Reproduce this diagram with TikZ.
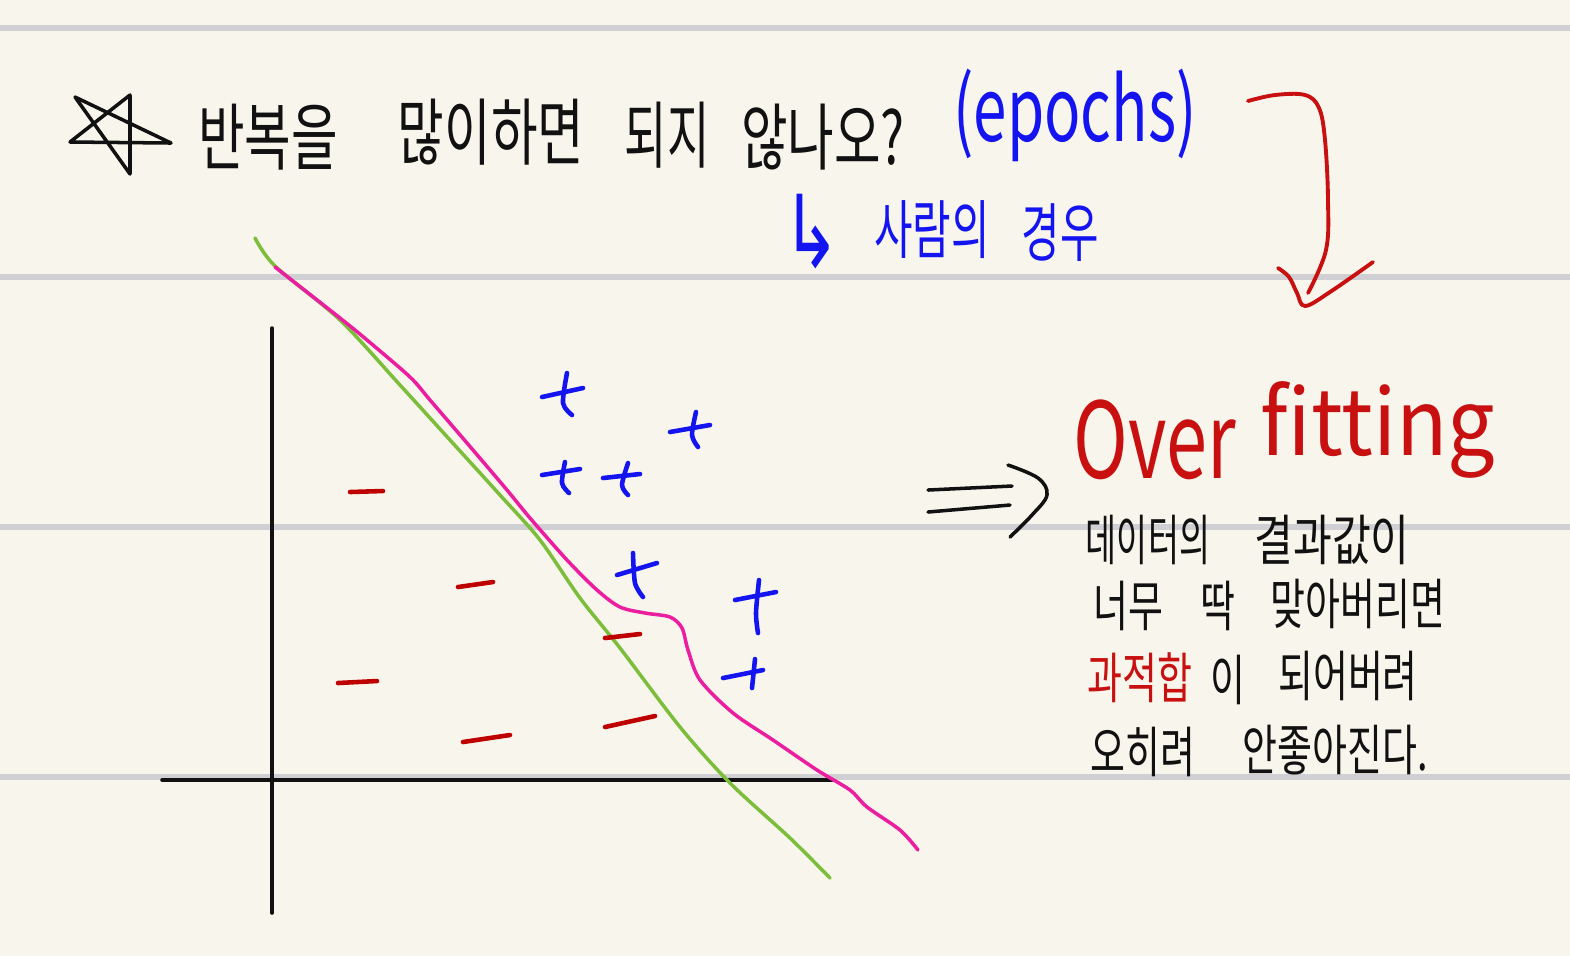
\documentclass[tikz,border=0pt]{standalone}
\usepackage{fontspec}
\usepackage{graphicx}
\newfontfamily\krfont{Noto Sans CJK KR}
\newfontfamily\djfont{DejaVu Sans}
\definecolor{paper}{RGB}{248,246,236}
\definecolor{rulec}{RGB}{208,208,212}
\definecolor{inkc}{RGB}{17,17,17}
\definecolor{bluec}{RGB}{20,20,240}
\definecolor{redc}{RGB}{200,16,16}
\definecolor{minusc}{RGB}{190,0,0}
\definecolor{greenc}{RGB}{124,190,60}
\definecolor{pinkc}{RGB}{236,30,160}
\newcommand\stretchtxt[3]{\scalebox{#1}[#2]{#3}}
\begin{document}
\begin{tikzpicture}[x=0.01cm,y=-0.01cm,
  rulestyle/.style={rulec,line width=1.5pt},
  txt/.style={inner sep=0pt,font=\krfont},
  titletxt/.style={txt,inkc,font=\krfont\fontsize{16}{18}\selectfont},
  bluetxt/.style={txt,bluec,font=\krfont\fontsize{14}{16}\selectfont},
  bodytxt/.style={txt,inkc,font=\krfont\fontsize{12}{14}\selectfont},
  overtxt/.style={txt,redc,font=\krfont\fontsize{20}{22}\selectfont},
  inkline/.style={inkc,line width=1pt,line cap=round,line join=round},
  plusstroke/.style={bluec,line width=1.3pt,line cap=round,line join=round},
  minusstroke/.style={minusc,line width=1.3pt,line cap=round},
  greencurve/.style={greenc,line width=1pt,line cap=round},
  pinkcurve/.style={pinkc,line width=1pt,line cap=round},
  redarrow/.style={redc,line width=1.1pt,line cap=round,line join=round}]
\fill[paper] (0,0) rectangle (1570,956);
\useasboundingbox (0,0) rectangle (1570,956);
\foreach \yy in {28,277,527,777} \draw[rulestyle] (0,\yy) -- (1570,\yy);

% star
\coordinate (sTL) at (75,97);
\coordinate (sT) at (130,95);
\coordinate (sR) at (171,143);
\coordinate (sL) at (70,142);
\coordinate (sB) at (130,174);
\draw[inkline] (sTL) -- (sR) -- (sL) -- (sT) -- (sB) -- cycle;

% title
\node[titletxt] (w1) at (268,137) {\stretchtxt{0.9}{1.3}{반복을}};
\node[titletxt] (w2) at (491,132) {\stretchtxt{0.9}{1.3}{많이하면}};
\node[titletxt] (w3) at (667,135) {\stretchtxt{0.82}{1.3}{되지}};
\node[titletxt] (w4) at (823,137) {\stretchtxt{0.9}{1.3}{않나오?}};
\node[txt,bluec,font=\krfont\fontsize{18}{20}\selectfont] (ep) at (1075,115) {\stretchtxt{0.95}{1.4}{(epochs)}};

% subtitle
\node[txt,bluec,font=\djfont\fontsize{22}{24}\selectfont] (ar) at (812,232) {\stretchtxt{0.9}{1.3}{↳}};
\node[bluetxt] (s1) at (932,230) {\stretchtxt{0.85}{1.3}{사람의}};
\node[bluetxt] (s2) at (1060,233) {\stretchtxt{0.85}{1.3}{경우}};

% red curved arrow
\draw[redarrow] plot[smooth,tension=0.6] coordinates {(1248,101) (1275,95) (1305,95) (1319,108) (1325,140) (1328,200) (1326,250) (1308,293)};
\draw[redarrow] plot[smooth,tension=0.6] coordinates {(1278,268) (1289,277) (1297,293) (1305,306) (1330,292) (1373,262)};

% axes
\coordinate (ytop) at (272,328);
\coordinate (ybot) at (272,913);
\coordinate (xl) at (162,780);
\coordinate (xr) at (832,780);
\draw[inkline] (ytop) -- (ybot);
\draw[inkline] (xl) -- (xr);

% curves
\draw[greencurve] plot[smooth,tension=0.5] coordinates {(255,238) (275,266) (340,320) (400,385) (450,440) (500,495) (540,540) (580,598) (620,648) (680,727) (730,783) (790,838) (830,878)};
\draw[pinkcurve] plot[smooth,tension=0.5] coordinates {(275,267) (340,318) (367,340) (410,377) (430,400) (473,450) (507,490) (530,518) (567,560) (597,590) (620,607) (645,613) (670,617) (682,628) (688,650) (700,680) (733,713) (773,740) (817,770) (850,790) (867,807) (900,830) (918,850)};

% pluses
\draw[plusstroke] (542,397) -- (583,388);
\draw[plusstroke] plot[smooth] coordinates {(567,373) (563,403) (572,415)};
\draw[plusstroke] (542,475) -- (580,469);
\draw[plusstroke] plot[smooth] coordinates {(565,462) (562,483) (569,493)};
\draw[plusstroke] (603,478) -- (640,474);
\draw[plusstroke] plot[smooth] coordinates {(628,463) (622,485) (628,495)};
\draw[plusstroke] (670,432) -- (710,425);
\draw[plusstroke] plot[smooth] coordinates {(696,412) (692,435) (698,447)};
\draw[plusstroke] (617,575) -- (657,563);
\draw[plusstroke] plot[smooth] coordinates {(633,553) (635,583) (643,597)};
\draw[plusstroke] (735,600) -- (776,592);
\draw[plusstroke] plot[smooth] coordinates {(759,580) (756,613) (758,633)};
\draw[plusstroke] (723,678) -- (763,670);
\draw[plusstroke] (755,659) -- (752,688);

% minuses
\draw[minusstroke] (350,492) -- (383,491);
\draw[minusstroke] (458,587) -- (493,582);
\draw[minusstroke] (338,683) -- (377,681);
\draw[minusstroke] (463,742) -- (510,735);
\draw[minusstroke] (605,638) -- (640,634);
\draw[minusstroke] (605,727) -- (655,716);

% double arrow
\draw[inkline] (928,490) -- (1012,486);
\draw[inkline] (928,512) -- (1010,505);
\draw[inkline] plot[smooth,tension=0.6] coordinates {(1008,465) (1038,478) (1047,495) (1032,515) (1010,537)};

% Over fitting
\node[overtxt] (ov) at (1155,440) {\stretchtxt{1.05}{1.5}{Over}};
\node[overtxt] (fi) at (1378,430) {\stretchtxt{1.2}{1.3}{fitting}};

% body
\node[bodytxt] (b11) at (1148,540) {\stretchtxt{0.8}{1.3}{데이터의}};
\node[bodytxt] (b12) at (1332,540) {\stretchtxt{1.0}{1.3}{결과값이}};
\node[bodytxt] (b21) at (1128,606) {\stretchtxt{0.9}{1.3}{너무}};
\node[bodytxt] (b22) at (1218,606) {\stretchtxt{0.9}{1.3}{딱}};
\node[bodytxt] (b23) at (1358,604) {\stretchtxt{0.9}{1.3}{맞아버리면}};
\node[bodytxt,redc] (b31) at (1140,678) {\stretchtxt{0.9}{1.3}{과적합}};
\node[bodytxt] (b32) at (1228,680) {\stretchtxt{0.9}{1.3}{이}};
\node[bodytxt] (b33) at (1348,676) {\stretchtxt{0.9}{1.3}{되어버려}};
\node[bodytxt] (b41) at (1143,752) {\stretchtxt{0.9}{1.3}{오히려}};
\node[bodytxt] (b42) at (1335,750) {\stretchtxt{0.9}{1.3}{안좋아진다.}};
\end{tikzpicture}
\end{document}
